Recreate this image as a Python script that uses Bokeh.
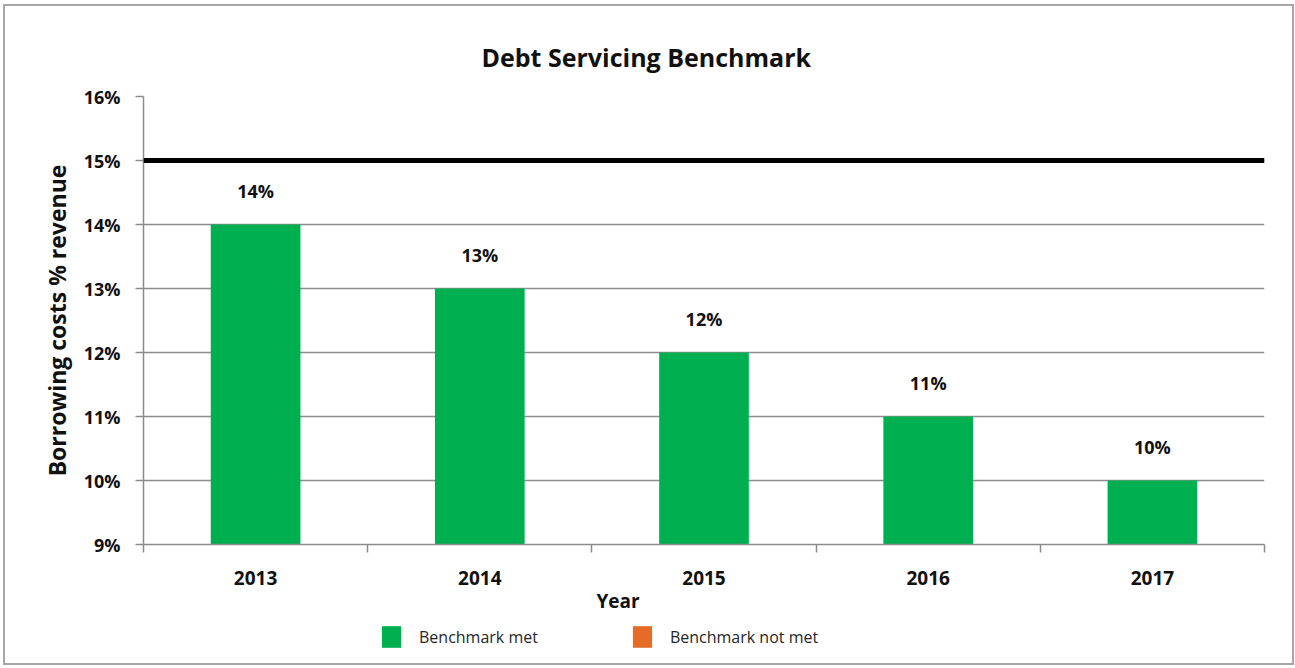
from bokeh.plotting import figure
from bokeh.layouts import column
from bokeh.models import Range1d, FixedTicker, Span, Legend, LegendItem, Title, ColumnDataSource
from bokeh.core.properties import value
from bokeh.embed import file_html
from bokeh.resources import INLINE

# ---- data ----
years = ["2013", "2014", "2015", "2016", "2017"]
values = [14, 13, 12, 11, 10]
value_labels = ["14%", "13%", "12%", "11%", "10%"]
benchmark = 15
y_ticks = [9, 10, 11, 12, 13, 14, 15, 16]
y_tick_labels = ["9%", "10%", "11%", "12%", "13%", "14%", "15%", "16%"]
legend_labels = ["Benchmark met", "Benchmark not met"]
title_text = "Debt Servicing Benchmark"
x_title = "Year"
y_title = "Borrowing costs % revenue"

FONT = "Open Sans"
GREEN = "#00B050"
ORANGE = "#E46C26"
GRID = "#8c8c8c"
INK = "#111111"

xc = [i + 0.5 for i in range(len(years))]
src = ColumnDataSource(dict(x=xc, top=values, lab=value_labels))

p = figure(frame_width=1121, frame_height=448, title=None,
           x_range=Range1d(0, len(years)), y_range=Range1d(y_ticks[0], y_ticks[-1]),
           output_backend="svg", toolbar_location=None,
           min_border_left=138, min_border_right=28, min_border_top=90, min_border_bottom=0)
p.outline_line_color = None
p.background_fill_color = "white"
p.border_fill_color = "white"

bars = p.vbar(x="x", top="top", bottom=y_ticks[0], width=0.4, source=src,
              fill_color=GREEN, line_color=None)

p.text(x="x", y="top", text="lab", source=src, text_align="center", text_baseline="middle",
       y_offset=-34, text_font=value(FONT), text_font_style="bold", text_font_size="18px",
       text_color=INK)

p.add_layout(Span(location=benchmark, dimension="width", line_color="black", line_width=5))

# axes
p.xaxis.ticker = FixedTicker(ticks=xc, minor_ticks=list(range(len(years) + 1)))
p.xaxis.major_label_overrides = {x: y for x, y in zip(xc, years)}
p.xaxis.major_tick_line_color = None
p.xaxis.major_tick_out = 0
p.xaxis.minor_tick_line_color = GRID
p.xaxis.minor_tick_line_width = 1.5
p.xaxis.minor_tick_out = 8
p.xaxis.minor_tick_in = 0
p.xaxis.major_label_standoff = 18
p.xaxis.axis_line_color = GRID
p.xaxis.axis_line_width = 1.5

p.yaxis.ticker = FixedTicker(ticks=y_ticks)
p.yaxis.major_label_overrides = {t: l for t, l in zip(y_ticks, y_tick_labels)}
p.yaxis.minor_tick_line_color = None
p.yaxis.major_tick_line_color = GRID
p.yaxis.major_tick_line_width = 1.5
p.yaxis.major_tick_out = 8
p.yaxis.major_tick_in = 0
p.yaxis.major_label_standoff = 15
p.yaxis.axis_line_color = GRID
p.yaxis.axis_line_width = 1.5
p.yaxis.axis_label = y_title
p.yaxis.axis_label_standoff = 8

for ax in (p.xaxis[0], p.yaxis[0]):
    ax.major_label_text_font = FONT
    ax.major_label_text_font_style = "bold"
    ax.major_label_text_font_size = "18px"
    ax.major_label_text_color = INK
    ax.axis_label_text_font = FONT
    ax.axis_label_text_font_style = "bold"
    ax.axis_label_text_font_size = "23px"
    ax.axis_label_text_color = INK
p.xaxis.major_label_text_font_size = "19px"

p.xgrid.grid_line_color = None
p.ygrid.grid_line_color = GRID
p.ygrid.grid_line_width = 1.5

# title (spacer + title, stacked outward from the frame)
p.add_layout(Title(text="", standoff=14), "above")
p.add_layout(Title(text=title_text, align="left", offset=338, standoff=46,
                   text_font=FONT, text_font_style="bold", text_font_size="25px",
                   text_color=INK), "above")

# x axis title
p.add_layout(Title(text=x_title, align="left", offset=453, standoff=0, vertical_align="top",
                   text_font=FONT, text_font_style="bold", text_font_size="19px",
                   text_color=INK), "below")

# ---- legend strip ----
lg = figure(width=1287, height=48, x_range=Range1d(0, 1), y_range=Range1d(0, 1),
            x_axis_location=None, y_axis_location=None, toolbar_location=None,
            output_backend="svg", min_border=0)
lg.outline_line_color = None
lg.grid.visible = False
lg.background_fill_color = "white"
lg.border_fill_color = "white"
# legend proxies (zero-height, nothing visible is drawn)
met = lg.vbar(x=[0.5], top=[0], bottom=0, width=0.4, fill_color=GREEN, line_color=None)
notmet = lg.vbar(x=[0.5], top=[0], bottom=0, width=0.4, fill_color=ORANGE, line_color=None)
legend = Legend(items=[LegendItem(label=legend_labels[0], renderers=[met]),
                       LegendItem(label=legend_labels[1], renderers=[notmet])],
                orientation="horizontal", location=(236, 13),
                padding=0, margin=0, border_line_color=None, background_fill_alpha=0,
                glyph_width=24, glyph_height=27, label_standoff=16, spacing=92,
                label_text_font=FONT, label_text_font_size="16px", label_text_color="#262626")
lg.add_layout(legend, "center")

layout = column(p, lg, spacing=0)
layout.styles = {"border": "2px solid #a6a6a6", "margin": "4px 0 0 3px", "background-color": "white"}

open("out.html", "w").write(file_html(layout, INLINE))
